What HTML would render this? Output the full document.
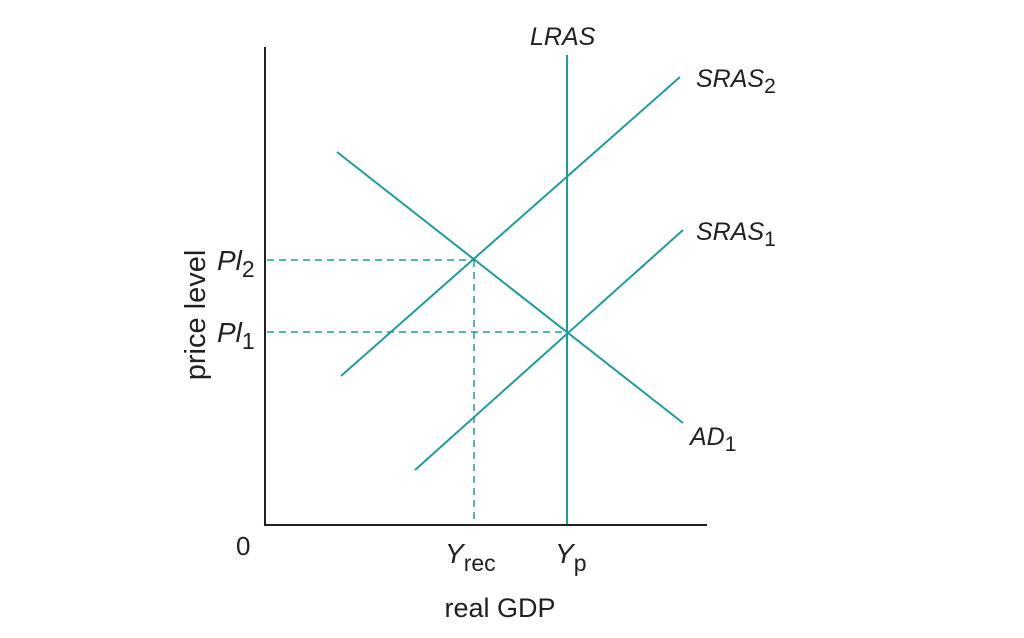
<!DOCTYPE html>
<html><head><meta charset="utf-8"><style>
html,body{margin:0;padding:0;background:#fff;}
svg{display:block;}
text{font-family:"Liberation Sans","DejaVu Sans",sans-serif;fill:#231f20;}
</style></head><body>
<svg width="1024" height="638" viewBox="0 0 1024 638" xmlns="http://www.w3.org/2000/svg">
<g stroke="#1e9c9c" stroke-width="2" fill="none">
<line x1="567" y1="55" x2="567" y2="525"/>
<line x1="341" y1="376" x2="680" y2="77"/>
<line x1="415" y1="470" x2="683" y2="230"/>
<line x1="337" y1="152" x2="683" y2="423"/>
</g>
<g stroke="#1e9c9c" stroke-width="1.5" stroke-dasharray="7,5" fill="none">
<line x1="267" y1="260" x2="474" y2="260"/>
<line x1="474" y1="260" x2="474" y2="525"/>
<line x1="267" y1="332" x2="567" y2="332"/>
</g>
<g stroke="#231f20" stroke-width="2" fill="none">
<line x1="265" y1="47" x2="265" y2="526"/>
<line x1="264" y1="525" x2="707" y2="525"/>
</g>
<g font-style="italic" font-size="25">
<text x="530" y="45">LRAS</text>
<text x="696" y="87">SRAS<tspan font-size="21" dy="6" font-style="normal">2</tspan></text>
<text x="696" y="240">SRAS<tspan font-size="21" dy="6" font-style="normal">1</tspan></text>
<text x="690" y="445">AD<tspan font-size="21" dy="6" font-style="normal">1</tspan></text>
<text x="217" y="270" font-size="28">Pl<tspan font-size="23" dy="7" font-style="normal">2</tspan></text>
<text x="217" y="342" font-size="28">Pl<tspan font-size="23" dy="7" font-style="normal">1</tspan></text>
<text x="445" y="563" font-size="28">Y<tspan font-size="23" dy="8" font-style="normal">rec</tspan></text>
<text x="555" y="563" font-size="28">Y<tspan font-size="23" dy="8" font-style="normal">p</tspan></text>
</g>
<text x="236" y="555" font-size="26">0</text>
<text x="500" y="617" font-size="27" text-anchor="middle">real GDP</text>
<text transform="translate(205,315) rotate(-90)" font-size="29" text-anchor="middle">price level</text>
</svg>
</body></html>
